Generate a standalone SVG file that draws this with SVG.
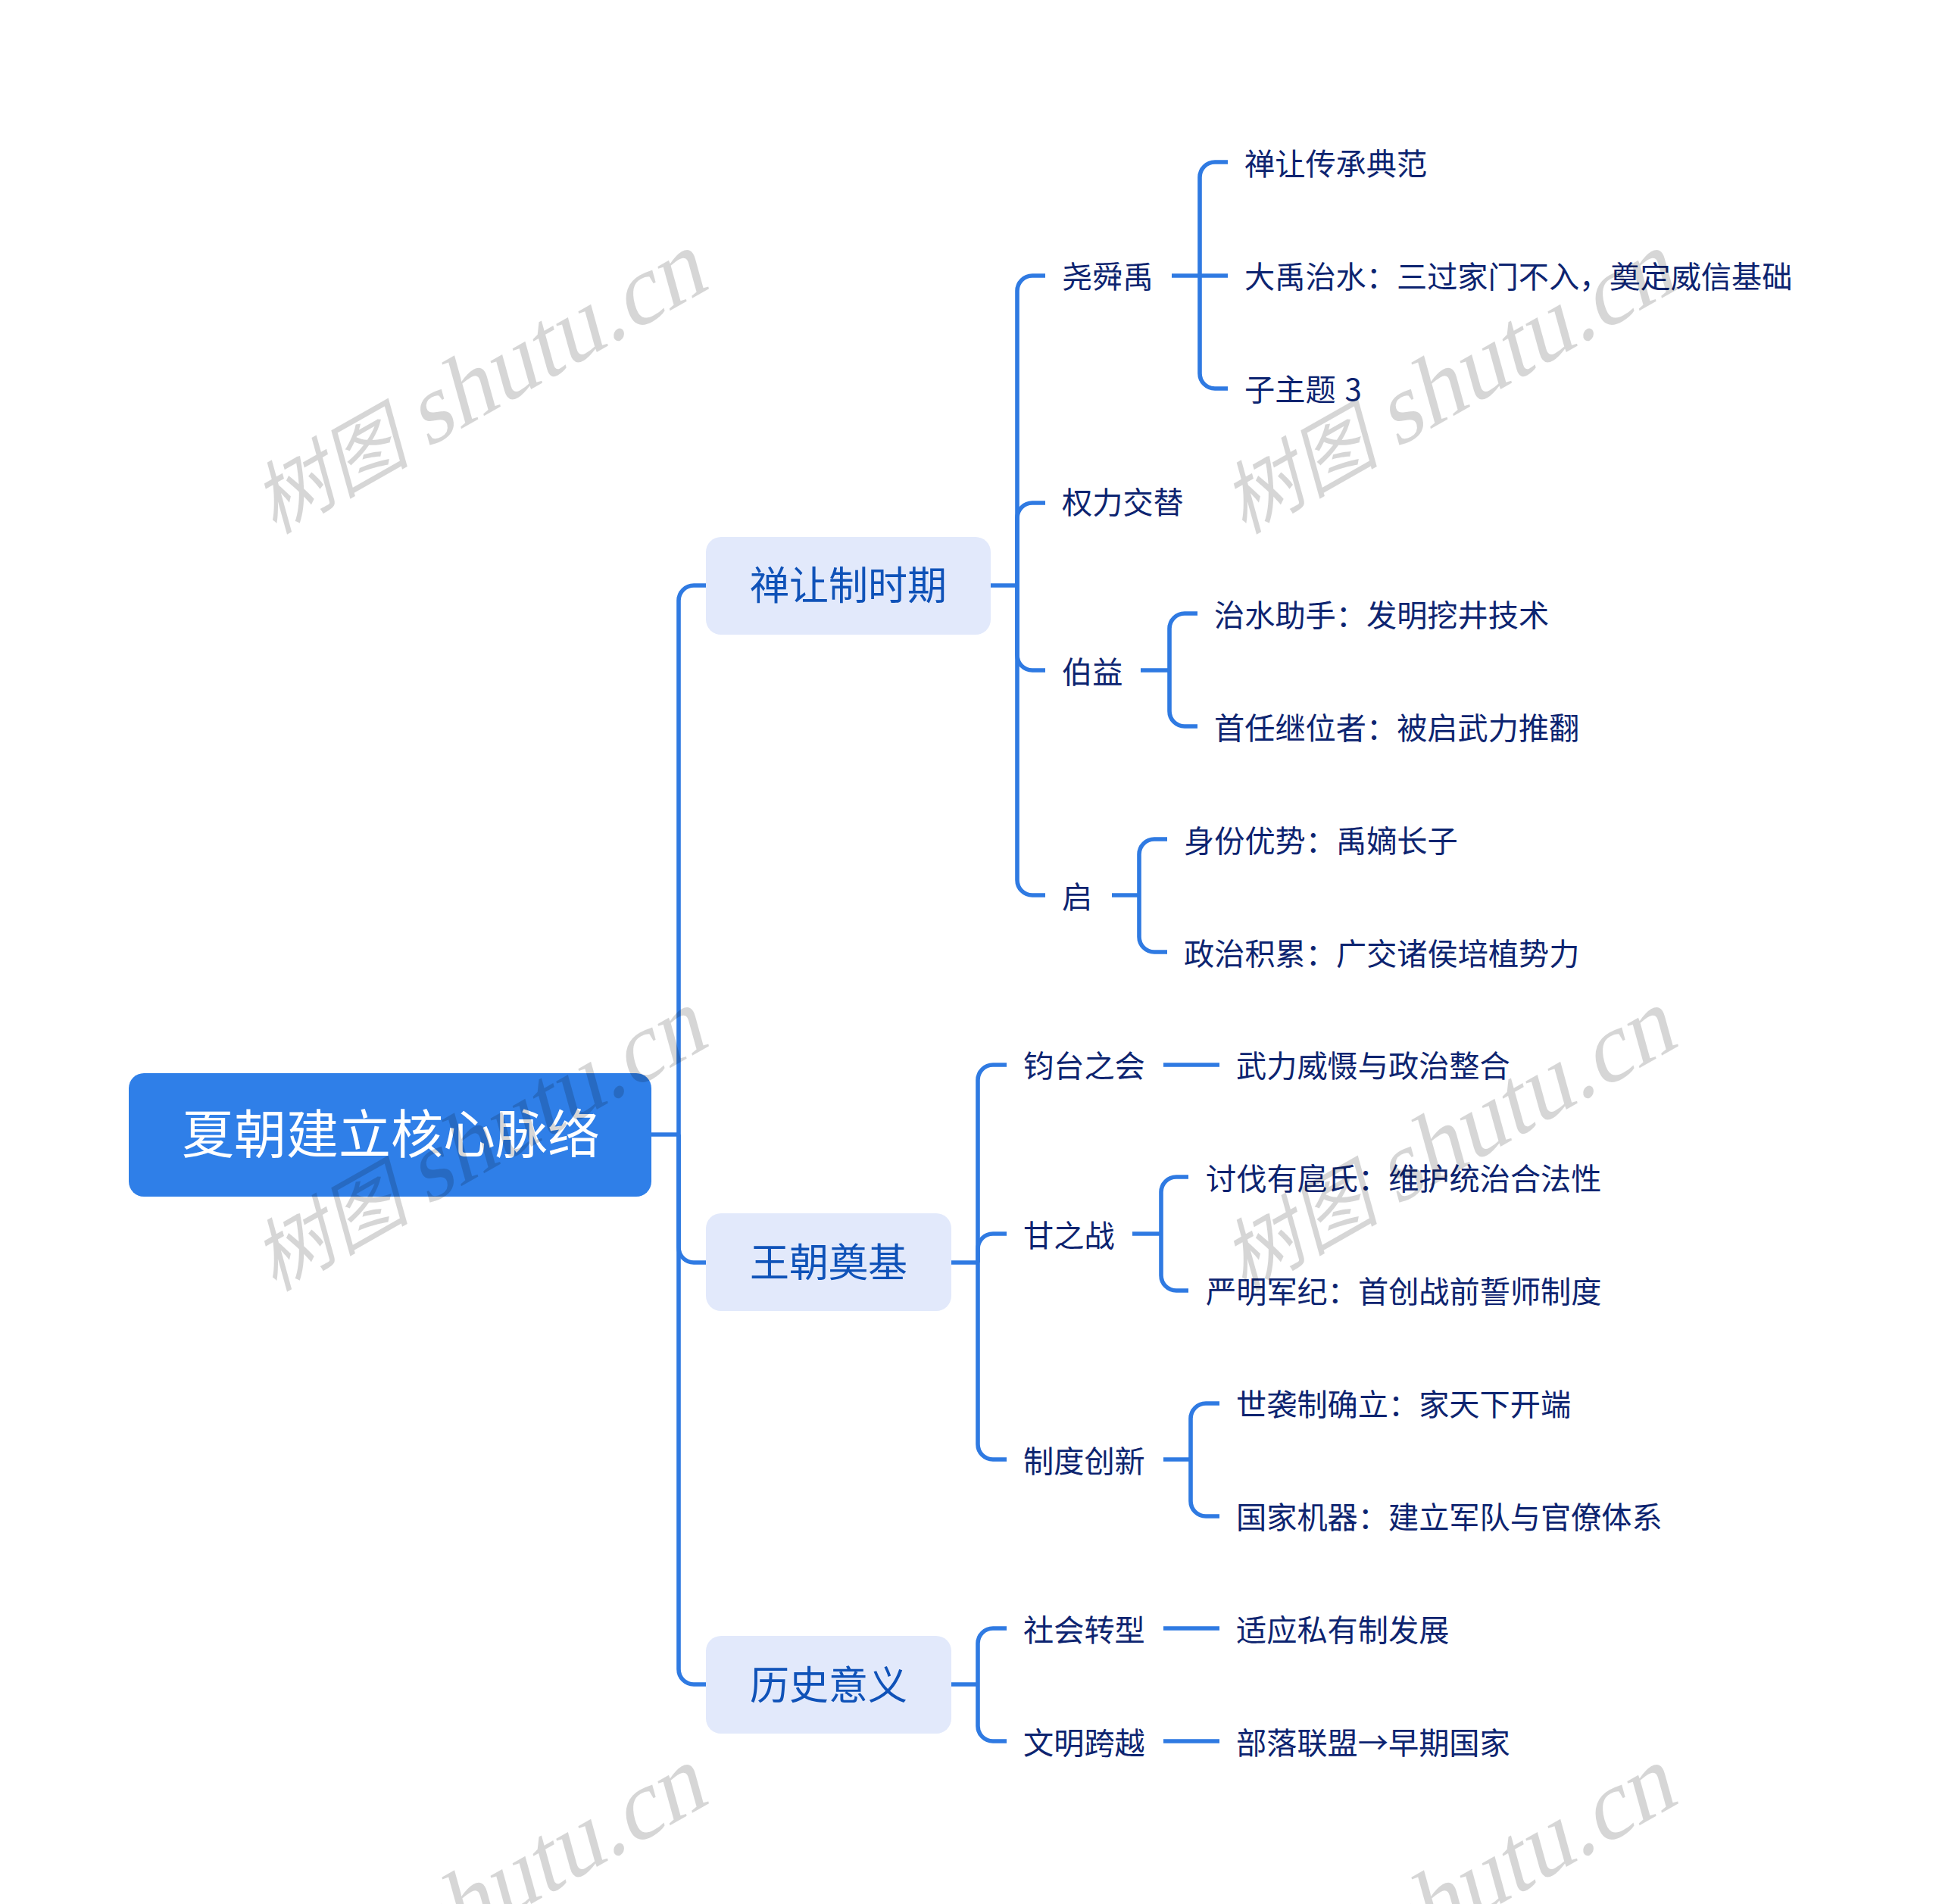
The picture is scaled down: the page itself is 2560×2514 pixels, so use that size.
<svg xmlns="http://www.w3.org/2000/svg" width="2560" height="2514" viewBox="0 0 2560 2514">
<style>
.t{font-family:"Noto Sans CJK SC","Noto Sans",sans-serif}
.c{fill:none;stroke:#2f7ae2;stroke-width:5.6;stroke-linecap:butt}
.l2{font-size:40.2px;fill:#0d2470}
.l1{font-size:52px;fill:#0f52b8}
.b{fill:#e2e9fb}
.wm{font-family:"Liberation Serif",serif;font-size:128px;fill:#000;fill-opacity:.16}
.wc{font-family:"Noto Sans CJK SC",sans-serif;font-size:104px}
</style>
<rect width="2560" height="2514" fill="#fff"/>
<g id="connectors">
<path class="c" d="M860 1498H896"/>
<path class="c" d="M896 1498V793A20 20 0 0 1 916 773H932"/>
<path class="c" d="M896 1498V1647A20 20 0 0 0 916 1667H932"/>
<path class="c" d="M896 1498V2204A20 20 0 0 0 916 2224H932"/>
<path class="c" d="M1308 773H1343"/>
<path class="c" d="M1343 773V384A20 20 0 0 1 1363 364H1380"/>
<path class="c" d="M1343 773V684A20 20 0 0 1 1363 664H1380"/>
<path class="c" d="M1343 773V865A20 20 0 0 0 1363 885H1380"/>
<path class="c" d="M1343 773V1162A20 20 0 0 0 1363 1182H1380"/>
<path class="c" d="M1547 364H1621"/>
<path class="c" d="M1584 364V234A20 20 0 0 1 1604 214H1621"/>
<path class="c" d="M1584 364V493A20 20 0 0 0 1604 513H1621"/>
<path class="c" d="M1506 885H1544"/>
<path class="c" d="M1544 885V830A20 20 0 0 1 1564 810H1581"/>
<path class="c" d="M1544 885V939A20 20 0 0 0 1564 959H1581"/>
<path class="c" d="M1468 1182H1504"/>
<path class="c" d="M1504 1182V1128A20 20 0 0 1 1524 1108H1541"/>
<path class="c" d="M1504 1182V1237A20 20 0 0 0 1524 1257H1541"/>
<path class="c" d="M1255 1667H1291"/>
<path class="c" d="M1291 1667V1426A20 20 0 0 1 1311 1406H1329"/>
<path class="c" d="M1291 1667V1649A20 20 0 0 1 1311 1629H1329"/>
<path class="c" d="M1291 1667V1907A20 20 0 0 0 1311 1927H1329"/>
<path class="c" d="M1536 1406H1610"/>
<path class="c" d="M1495 1629H1533"/>
<path class="c" d="M1533 1629V1574A20 20 0 0 1 1553 1554H1569"/>
<path class="c" d="M1533 1629V1684A20 20 0 0 0 1553 1704H1569"/>
<path class="c" d="M1536 1927H1572"/>
<path class="c" d="M1572 1927V1873A20 20 0 0 1 1592 1853H1610"/>
<path class="c" d="M1572 1927V1982A20 20 0 0 0 1592 2002H1610"/>
<path class="c" d="M1255 2224H1291"/>
<path class="c" d="M1291 2224V2170A20 20 0 0 1 1311 2150H1329"/>
<path class="c" d="M1291 2224V2279A20 20 0 0 0 1311 2299H1329"/>
<path class="c" d="M1536 2150H1610"/>
<path class="c" d="M1536 2299H1610"/>
</g>
<g id="root"><rect x="170" y="1417" width="690" height="163" rx="20" fill="#2f7fe8"/><text class="t" x="240" y="1523" font-size="69" fill="#fff">夏朝建立核心脉络</text></g>
<g id="n1"><rect class="b" x="932" y="709" width="376" height="129" rx="20"/><text class="t l1" x="990" y="792">禅让制时期</text></g>
<g id="n2"><rect class="b" x="932" y="1602" width="324" height="129" rx="20"/><text class="t l1" x="990" y="1686">王朝奠基</text></g>
<g id="n3"><rect class="b" x="932" y="2160" width="324" height="129" rx="20"/><text class="t l1" x="990" y="2244">历史意义</text></g>
<g id="n11"><text class="t l2" x="1402" y="380">尧舜禹</text></g>
<g id="n111"><text class="t l2" x="1643" y="231">禅让传承典范</text></g>
<g id="n112"><text class="t l2" x="1643" y="380">大禹治水：三过家门不入，奠定威信基础</text></g>
<g id="n113"><text class="t l2" x="1643" y="529" word-spacing="3">子主题 3</text></g>
<g id="n12"><text class="t l2" x="1402" y="678">权力交替</text></g>
<g id="n13"><text class="t l2" x="1402" y="902">伯益</text></g>
<g id="n131"><text class="t l2" x="1603" y="827">治水助手：发明挖井技术</text></g>
<g id="n132"><text class="t l2" x="1603" y="976">首任继位者：被启武力推翻</text></g>
<g id="n14"><text class="t l2" x="1402" y="1199">启</text></g>
<g id="n141"><text class="t l2" x="1563" y="1125">身份优势：禹嫡长子</text></g>
<g id="n142"><text class="t l2" x="1563" y="1274">政治积累：广交诸侯培植势力</text></g>
<g id="n21"><text class="t l2" x="1351" y="1422">钧台之会</text></g>
<g id="n211"><text class="t l2" x="1632" y="1422">武力威慑与政治整合</text></g>
<g id="n22"><text class="t l2" x="1351" y="1646">甘之战</text></g>
<g id="n221"><text class="t l2" x="1592" y="1571">讨伐有扈氏：维护统治合法性</text></g>
<g id="n222"><text class="t l2" x="1592" y="1720">严明军纪：首创战前誓师制度</text></g>
<g id="n23"><text class="t l2" x="1351" y="1944">制度创新</text></g>
<g id="n231"><text class="t l2" x="1632" y="1869">世袭制确立：家天下开端</text></g>
<g id="n232"><text class="t l2" x="1632" y="2018">国家机器：建立军队与官僚体系</text></g>
<g id="n31"><text class="t l2" x="1351" y="2167">社会转型</text></g>
<g id="n311"><text class="t l2" x="1632" y="2167">适应私有制发展</text></g>
<g id="n32"><text class="t l2" x="1351" y="2316">文明跨越</text></g>
<g id="n321"><text class="t l2" x="1632" y="2316">部落联盟→早期国家</text></g>
<g id="watermark">
<text class="wm" transform="translate(362 706) rotate(-29.5) skewX(-14)"><tspan class="wc">树图 </tspan>shutu.cn</text>
<text class="wm" transform="translate(1642 706) rotate(-29.5) skewX(-14)"><tspan class="wc">树图 </tspan>shutu.cn</text>
<text class="wm" transform="translate(362 1706) rotate(-29.5) skewX(-14)"><tspan class="wc">树图 </tspan>shutu.cn</text>
<text class="wm" transform="translate(1642 1706) rotate(-29.5) skewX(-14)"><tspan class="wc">树图 </tspan>shutu.cn</text>
<text class="wm" transform="translate(362 2706) rotate(-29.5) skewX(-14)"><tspan class="wc">树图 </tspan>shutu.cn</text>
<text class="wm" transform="translate(1642 2706) rotate(-29.5) skewX(-14)"><tspan class="wc">树图 </tspan>shutu.cn</text>
</g>
</svg>
